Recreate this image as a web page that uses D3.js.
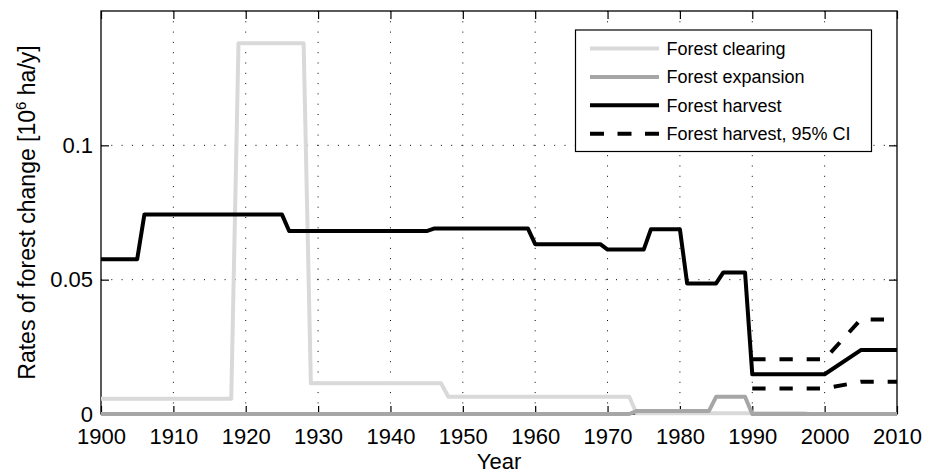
<!DOCTYPE html>
<html>
<head>
<meta charset="utf-8">
<script src="https://cdn.jsdelivr.net/npm/d3@7"></script>
<style>
    body { margin: 0; background: #fff; }
    text { font-family: 'Liberation Sans', Arial, Helvetica, sans-serif; fill: #000; }
    .grid line { stroke: #000; stroke-width: 1; stroke-dasharray: 1,9.3; }
</style>
</head>
<body>
<div id="graph"></div>
<script>
// Break points of each series (year, 10^6 ha/y)
var clearingYears  = [1900, 1918, 1919, 1928, 1929, 1947, 1948, 1973, 1974, 1997, 1998, 2010];
var clearingValues = [0.0057, 0.0057, 0.138, 0.138, 0.0114, 0.0114, 0.0064, 0.0064, 0.0003, 0.0003, 0, 0];

var expansionYears  = [1900, 1973, 1974, 1984, 1985, 1989, 1990, 2010];
var expansionValues = [0, 0, 0.0011, 0.0011, 0.0064, 0.0064, 0, 0];

var harvestYears  = [1900, 1905, 1906, 1925, 1926, 1945, 1946, 1959, 1960, 1969, 1970, 1975,
                     1976, 1980, 1981, 1985, 1986, 1989, 1990, 2000, 2005, 2010];
var harvestValues = [0.0576, 0.0576, 0.0743, 0.0743, 0.0681, 0.0681, 0.0690, 0.0690, 0.0632, 0.0632, 0.0612, 0.0612,
                     0.0688, 0.0688, 0.0486, 0.0486, 0.0527, 0.0527, 0.0148, 0.0148, 0.0238, 0.0238];

var ciYears       = [1990, 2000, 2005, 2010];
var ciUpperValues = [0.0204, 0.0204, 0.0352, 0.0352];
var ciLowerValues = [0.0095, 0.0095, 0.0120, 0.0120];

var xTickValues = [1900, 1910, 1920, 1930, 1940, 1950, 1960, 1970, 1980, 1990, 2000, 2010];
var yTickValues = [0, 0.05, 0.1];
var yTickLabels = ['0', '0.05', '0.1'];

var legendLabels = ['Forest clearing', 'Forest expansion', 'Forest harvest', 'Forest harvest, 95% CI'];

function zipSeries (years, values)
{
    return years.map (function (y, i) { return { x: y, y: values[i] }; });
}

var margin = { top: 11, right: 28, bottom: 60, left: 101 };
var width  = 925 - margin.left - margin.right;
var height = 474 - margin.top - margin.bottom;

var xScale = d3.scaleLinear ()
               .domain ([1900, 2010])
               .range ([0, width]);

var yScale = d3.scaleLinear ()
               .domain ([0, 0.15])
               .range ([height, 0]);

var svg = d3.select ('#graph')
            .append ('svg')
            .attr ('width', 925)
            .attr ('height', 474)
            .append ('g')
            .attr ('transform', 'translate(' + margin.left + ',' + margin.top + ')');

// Dotted grid
var grid = svg.append ('g').attr ('class', 'grid');
grid.selectAll ('.vgrid')
    .data (xTickValues.slice (1, -1))
    .enter ()
    .append ('line')
    .attr ('x1', function (d) { return xScale (d); })
    .attr ('x2', function (d) { return xScale (d); })
    .attr ('y1', 0)
    .attr ('y2', height);

grid.selectAll ('.hgrid')
    .data (yTickValues.slice (1))
    .enter ()
    .append ('line')
    .attr ('x1', 0)
    .attr ('x2', width)
    .attr ('y1', function (d) { return yScale (d); })
    .attr ('y2', function (d) { return yScale (d); });

// Axes, MATLAB style: ticks inside on all four sides
var xAxisBottom = d3.axisBottom (xScale).tickValues (xTickValues).tickSize (-8).tickPadding (14).tickFormat (d3.format ('d'));
var xAxisTop    = d3.axisTop (xScale).tickValues (xTickValues).tickSize (-8).tickFormat ('');
var yAxisLeft   = d3.axisLeft (yScale).tickValues (yTickValues).tickSize (-8).tickPadding (8)
                    .tickFormat (function (d, i) { return yTickLabels[i]; });
var yAxisRight  = d3.axisRight (yScale).tickValues (yTickValues).tickSize (-8).tickFormat ('');

function styleAxis (g)
{
    g.select ('.domain').remove ();
    g.selectAll ('.tick line').attr ('stroke', '#000').attr ('stroke-width', 1.2);
    g.selectAll ('.tick text').style ('font-size', '22px').attr ('fill', '#000');
}

svg.append ('g').attr ('transform', 'translate(0,' + height + ')').call (xAxisBottom).call (styleAxis);
svg.append ('g').call (xAxisTop).call (styleAxis);
svg.append ('g').call (yAxisLeft).call (styleAxis);
svg.append ('g').attr ('transform', 'translate(' + width + ',0)').call (yAxisRight).call (styleAxis);

// Axes box
svg.append ('rect')
   .attr ('x', 0).attr ('y', 0)
   .attr ('width', width).attr ('height', height)
   .attr ('fill', 'none')
   .attr ('stroke', '#000')
   .attr ('stroke-width', 1.3);

// Axis labels
svg.append ('text')
   .style ('text-anchor', 'middle')
   .style ('font-size', '22px')
   .attr ('x', width / 2)
   .attr ('y', height + 55)
   .text ('Year');

var yLabel = svg.append ('text')
   .style ('text-anchor', 'middle')
   .style ('font-size', '23px')
   .attr ('transform', 'rotate(-90)')
   .attr ('x', -height / 2)
   .attr ('y', -66);
yLabel.append ('tspan').text ('Rates of forest change [10');
yLabel.append ('tspan').attr ('dy', -9).style ('font-size', '15px').text ('6');
yLabel.append ('tspan').attr ('dy', 9).text (' ha/y]');

// Lines
var line = d3.line ()
             .x (function (d) { return xScale (d.x); })
             .y (function (d) { return yScale (d.y); });

var series = [
    { data: zipSeries (clearingYears, clearingValues),   color: '#d9d9d9', dash: null },
    { data: zipSeries (expansionYears, expansionValues), color: '#a6a6a6', dash: null },
    { data: zipSeries (harvestYears, harvestValues),     color: '#000000', dash: null },
    { data: zipSeries (ciYears, ciUpperValues),          color: '#000000', dash: '13.3,13.9' },
    { data: zipSeries (ciYears, ciLowerValues),          color: '#000000', dash: '13.3,13.9' }
];

series.forEach (function (s)
{
    svg.append ('path')
       .datum (s.data)
       .attr ('fill', 'none')
       .attr ('stroke', s.color)
       .attr ('stroke-width', 4)
       .attr ('stroke-linejoin', 'round')
       .attr ('stroke-dasharray', s.dash)
       .attr ('d', line);
});

// Legend
var legend = svg.append ('g').attr ('transform', 'translate(' + (575.5 - margin.left) + ',' + (30 - margin.top) + ')');
legend.append ('rect')
      .attr ('width', 296)
      .attr ('height', 121.5)
      .attr ('fill', '#fff')
      .attr ('stroke', '#000')
      .attr ('stroke-width', 1.2);

var legendStyles = [
    { color: '#d9d9d9', dash: null },
    { color: '#a6a6a6', dash: null },
    { color: '#000000', dash: null },
    { color: '#000000', dash: '14,13.5' }
];

legendLabels.forEach (function (label, i)
{
    var yRow = 18.5 + i * 28.4;
    legend.append ('line')
          .attr ('x1', 14.5).attr ('x2', 83.5)
          .attr ('y1', yRow).attr ('y2', yRow)
          .attr ('stroke', legendStyles[i].color)
          .attr ('stroke-width', 4)
          .attr ('stroke-dasharray', legendStyles[i].dash);
    legend.append ('text')
          .attr ('x', 91)
          .attr ('y', yRow + 6.5)
          .style ('font-size', '18px')
          .text (label);
});
</script>
</body>
</html>
